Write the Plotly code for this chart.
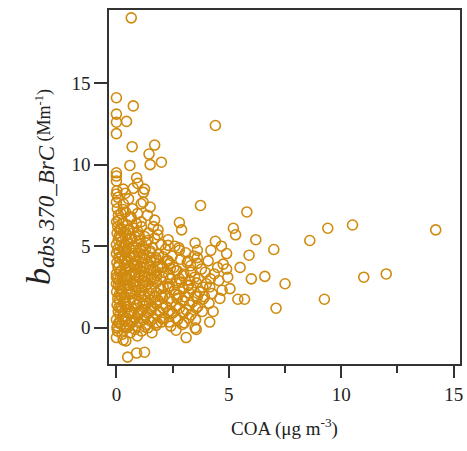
import plotly.graph_objects as go

# Explicitly read points (COA, babs)
x_read = [0.66, 0.0, 0.75, 0.0, 0.0, 0.45, 0.0, 4.4, 0.7, 1.7, 1.45, 2.0, 1.5, 0.6,
          0.0, 0.0, 0.0, 0.9, 0.95, 1.25, 0.75, 0.3,
          14.2, 10.5, 9.4, 8.6, 7.0, 6.2, 5.9, 11.0, 12.0, 6.6, 7.5, 6.0, 9.25, 7.1, 5.4, 5.7,
          4.3, 4.15, 5.8, 5.2, 5.3, 4.4, 4.67, 4.2, 4.9, 5.5, 3.74, 3.55, 3.1, 4.5, 4.95, 4.7, 4.6, 4.15,
          0.0, 0.4, 1.2, 1.1, 1.5, 0.3, 0.65, 1.1, 1.7, 2.8, 2.9, 1.85, 0.2, 0.5, 1.0, 1.4, 0.2,
          2.3, 3.5, 2.8, 3.6, 0.0, 0.75, 1.55, 0.5, 2.3, 3.2, 3.6, 0.2, 1.1, 1.85, 2.4, 3.3,
          0.0, 0.85, 1.55, 2.8, 0.0, 0.5, 1.4, 2.3, 3.2, 0.2, 1.1, 2.0, 2.7, 3.6, 0.2, 1.0,
          1.55, 2.3, 3.0, 0.1, 0.65, 1.4, 2.0, 2.65, 3.5, 0.5, 0.9, 1.25, 0.0, 0.3]
y_read = [19.0, 14.1, 13.6, 13.1, 12.6, 12.65, 11.9, 12.4, 11.1, 11.2, 10.65, 10.15, 10.0, 9.95,
          9.5, 9.3, 9.0, 9.2, 8.85, 8.5, 8.55, 8.5,
          6.0, 6.3, 6.1, 5.35, 4.8, 5.4, 4.45, 3.1, 3.3, 3.15, 2.7, 3.0, 1.75, 1.2, 1.75, 1.75,
          1.0, 0.35, 7.1, 6.1, 5.7, 5.3, 5.0, 4.75, 4.55, 3.7, 7.5, -0.1, -0.6, 3.7, 3.1, 2.3, 1.8, 2.5,
          8.2, 8.25, 8.3, 7.6, 7.4, 7.25, 6.8, 6.5, 6.6, 6.45, 6.0, 6.0, 6.1, 6.0, 5.7, 5.35, 5.55,
          5.05, 5.2, 4.75, 4.75, 4.55, 4.55, 4.3, 4.0, 4.1, 4.1, 3.95, 3.5, 3.5, 3.7, 3.65, 3.4,
          3.1, 3.2, 3.1, 3.0, 2.7, 2.6, 2.7, 2.5, 2.6, 2.0, 1.9, 2.0, 1.8, 1.9, 1.27, 0.9,
          1.2, 0.9, 0.95, 0.3, 0.3, 0.0, 0.35, -0.15, 0.0, -1.8, -1.55, -1.5, -0.6, -0.75]

# Dense core points (estimated from the cloud)
x_core = [0.02, 0.05, 0.0, 0.08, 0.03, 0.06, 0.01, 0.09, 0.04, 0.0, 0.07, 0.02, 0.1, 0.05, 0.0,
          0.08, 0.03, 0.06, 0.01, 0.09, 0.04, 0.0, 0.07, 0.02, 0.05,
          0.22, 0.28, 0.25, 0.33, 0.21, 0.3, 0.26, 0.35, 0.23, 0.29, 0.24, 0.32, 0.27, 0.2, 0.31, 0.25,
          0.42, 0.48, 0.45, 0.52, 0.41, 0.55, 0.47, 0.43, 0.5, 0.44, 0.53, 0.46, 0.49, 0.4, 0.54,
          0.62, 0.7, 0.66, 0.78, 0.64, 0.73, 0.68, 0.8, 0.61, 0.75, 0.69, 0.77, 0.63, 0.72,
          0.88, 0.95, 0.9, 1.0, 0.86, 0.97, 0.92, 0.87, 0.99, 0.91, 0.96, 0.89, 0.94, 0.93,
          1.12, 1.2, 1.15, 1.24, 1.1, 1.18, 1.22, 1.13, 1.2, 1.16, 1.25, 1.11, 1.19,
          1.32, 1.4, 1.35, 1.48, 1.3, 1.44, 1.37, 1.5, 1.33, 1.42, 1.38,
          1.58, 1.65, 1.6, 1.72, 1.56, 1.68, 1.62, 1.75, 1.59, 1.7, 1.64,
          1.82, 1.9, 1.85, 1.97, 1.8, 1.93, 1.87, 2.0, 1.84,
          2.12, 2.2, 2.15, 2.28, 2.1, 2.25, 2.18, 2.3,
          2.42, 2.5, 2.45, 2.58, 2.4, 2.55, 2.48, 2.6,
          2.72, 2.8, 2.75, 2.88, 2.7, 2.85, 2.78,
          3.02, 3.1, 3.05, 3.18, 3.0, 3.15, 3.08,
          3.32, 3.4, 3.35, 3.48, 3.3, 3.45,
          3.62, 3.7, 3.65, 3.78, 3.6,
          3.92, 4.0, 3.95, 4.08]
y_core = [0.0, 0.1, 0.5, 1.0, 1.4, 1.8, 2.2, 2.6, 3.0, 3.3, 3.7, 4.0, 4.3, 4.8, 5.1,
          5.4, 5.8, 6.2, 6.5, 6.9, 7.3, 7.7, 8.0, 8.4, -0.2,
          0.2, 0.7, 1.1, 1.6, 2.3, 2.8, 3.2, 3.9, 4.4, 4.9, 5.3, 5.9, 6.4, 7.0, 7.6, -0.4,
          -0.8, 0.0, 0.6, 1.3, 1.9, 2.4, 3.0, 3.5, 4.2, 4.7, 5.2, 5.7, 6.3, 7.1, 7.9,
          -0.3, 0.4, 1.0, 1.5, 2.1, 2.7, 3.3, 3.8, 4.4, 5.0, 5.5, 6.1, 6.7, 7.3,
          0.1, 0.8, 1.4, 2.0, 2.5, 3.1, 3.6, 4.1, 4.6, 5.3, 5.9, 6.4, 7.0, -0.5,
          -0.2, 0.5, 1.1, 1.7, 2.3, 2.9, 3.4, 4.0, 4.5, 5.0, 5.6, 6.2, 7.7,
          0.2, 0.9, 1.5, 2.1, 2.8, 3.3, 3.9, 4.6, 5.2, 5.8, 6.9,
          -0.3, 0.6, 1.3, 1.9, 2.5, 3.0, 3.6, 4.3, 4.9, 5.5, 6.2,
          0.3, 1.0, 1.7, 2.4, 3.2, 3.8, 4.5, 5.1, 5.7,
          0.6, 1.3, 2.0, 2.7, 3.4, 4.1, 4.8, 5.4,
          0.1, 0.9, 1.6, 2.3, 3.0, 3.7, 4.4, 5.0,
          0.5, 1.2, 2.0, 2.8, 3.5, 4.2, 4.9,
          0.3, 1.1, 1.9, 2.6, 3.3, 4.0, 4.6,
          0.8, 1.6, 2.4, 3.1, 3.8, 4.4,
          1.3, 2.2, 3.0, 3.6, 4.3,
          1.9, 2.7, 3.4, 4.1]

# Extra dense-core points filling gaps in the cloud
x_fill = [0.12, 0.15, 0.11, 0.14, 0.13, 0.16, 0.12, 0.15, 0.11, 0.14, 0.13, 0.16, 0.12, 0.15, 0.1,
          0.36, 0.38, 0.37, 0.39, 0.36, 0.38, 0.37, 0.39, 0.36, 0.38, 0.37, 0.39,
          0.57, 0.59, 0.58, 0.6, 0.57, 0.59, 0.58, 0.6, 0.57, 0.59, 0.58,
          0.82, 0.84, 0.83, 0.81, 0.85, 0.82, 0.84, 0.83, 0.81, 0.85, 0.82,
          1.03, 1.06, 1.04, 1.07, 1.05, 1.03, 1.06, 1.04, 1.07, 1.05,
          1.27, 1.29, 1.28, 1.26, 1.29, 1.27, 1.28, 1.26, 1.29,
          1.52, 1.54, 1.53, 1.51, 1.54, 1.52, 1.53, 1.51,
          1.77, 1.79, 1.78, 1.76, 1.79, 1.77, 1.78,
          2.04, 2.07, 2.05, 2.08, 2.06, 2.04, 2.07,
          2.34, 2.36, 2.35, 2.37, 2.33, 2.36,
          2.63, 2.66, 2.64, 2.67, 2.65,
          2.93, 2.96, 2.94, 2.97, 2.95,
          3.22, 3.25, 3.23, 3.26,
          3.52, 3.55, 3.53, 3.56,
          3.82, 3.85, 3.84,
          4.12, 4.18, 4.25, 4.35, 4.55, 4.75, 5.05, 4.9]
y_fill = [0.3, 0.8, 1.25, 1.7, 2.05, 2.45, 2.9, 3.4, 3.85, 4.3, 4.65, 5.0, 5.6, 6.0, 6.6,
          0.0, 0.45, 0.95, 1.45, 1.85, 2.55, 3.1, 3.6, 4.15, 4.6, 5.1, 5.6,
          0.15, 0.85, 1.65, 2.2, 2.6, 3.2, 3.75, 4.3, 4.85, 5.45, 6.0,
          -0.1, 0.55, 1.2, 1.75, 2.3, 2.85, 3.4, 3.9, 4.35, 4.9, 5.6,
          0.3, 0.95, 1.55, 2.15, 2.7, 3.2, 3.75, 4.3, 4.85, 5.35,
          0.05, 0.7, 1.35, 1.95, 2.55, 3.15, 3.7, 4.25, 4.8,
          0.4, 1.05, 1.7, 2.35, 2.95, 3.5, 4.05, 4.7,
          0.15, 0.8, 1.45, 2.15, 2.8, 3.45, 4.15,
          0.55, 1.2, 1.85, 2.5, 3.1, 3.75, 4.35,
          0.35, 1.05, 1.8, 2.55, 3.25, 3.95,
          0.6, 1.35, 2.05, 2.75, 3.5,
          0.2, 0.95, 1.65, 2.4, 3.2,
          0.6, 1.4, 2.15, 2.9,
          0.5, 1.2, 1.95, 2.75,
          1.0, 1.75, 2.5,
          1.5, 3.0, 2.1, 3.3, 2.9, 3.9, 2.4, 3.6]

coa = x_read + x_core + x_fill
babs = y_read + y_core + y_fill

x_ticks = [0, 5, 10, 15]
y_ticks = [0, 5, 10, 15]

color = "#D08A0E"
axis_color = "#333333"
font_family = "Liberation Serif"

fig = go.Figure()
fig.add_trace(go.Scatter(
    x=coa, y=babs, mode="markers",
    marker=dict(symbol="circle-open", size=10, color=color, line=dict(width=1.6, color=color)),
    showlegend=False,
))

fig.update_layout(
    width=467, height=451,
    margin=dict(l=108.5, r=4, t=9.5, b=87),
    paper_bgcolor="white", plot_bgcolor="white",
    font=dict(family=font_family, size=19, color="#222222"),
    xaxis=dict(
        range=[-0.33, 15.28], tickvals=x_ticks, ticktext=[str(v) for v in x_ticks],
        showgrid=False, zeroline=False, showline=True, mirror=True,
        linecolor=axis_color, linewidth=1.5,
        ticks="outside", ticklen=12, tickwidth=1.5, tickcolor=axis_color,
        minor=dict(dtick=2.5, ticks="outside", ticklen=7, tickwidth=1.5, tickcolor=axis_color),
        title=dict(text="COA (μg m<sup>-3</sup>)", font=dict(size=19), standoff=18),
    ),
    yaxis=dict(
        range=[-2.22, 19.48], tickvals=y_ticks, ticktext=[str(v) for v in y_ticks],
        showgrid=False, zeroline=False, showline=True, mirror=True,
        linecolor=axis_color, linewidth=1.5,
        ticks="outside", ticklen=13, tickwidth=1.5, tickcolor=axis_color,
        title=dict(
            text="<span style='font-size:34px'><i>b</i></span><sub><span style='font-size:23px'><i>abs 370_BrC</i></span></sub> (Mm<sup>-1</sup>)",
            font=dict(size=18), standoff=16),
    ),
)

fig.write_html("out.html")
